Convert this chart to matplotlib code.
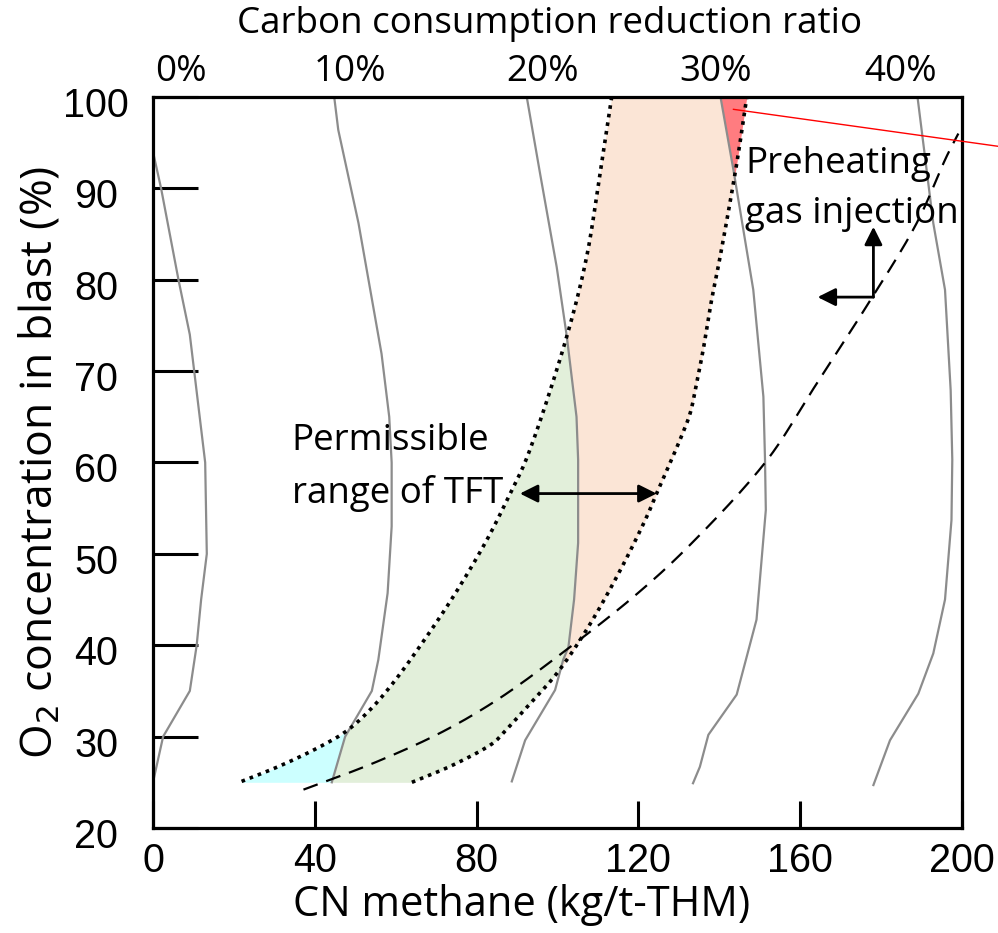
import numpy as np
import matplotlib
matplotlib.use("Agg")
import matplotlib.pyplot as plt
import matplotlib.transforms as mtransforms

# ---------------- data ----------------
o2_ticks = [20, 30, 40, 50, 60, 70, 80, 90, 100]
cn_ticks = [0, 40, 80, 120, 160, 200]
pct_labels = ["0%", "10%", "20%", "30%", "40%"]
pct_label_pos = [6.9, 48.7, 96.4, 139.2, 184.7]

# iso-lines of carbon consumption reduction ratio (x = CN methane, y = O2 %)
line0_y = [25, 30, 35, 40, 45, 50, 60, 67, 74, 80, 90, 93.8]
line0_x = [0.0, 2.5, 9.1, 10.8, 11.9, 13.3, 12.9, 11.0, 9.1, 6.3, 2.0, 0.1]
line10_y = [25, 30, 35, 38.4, 45.7, 53, 60, 65, 71.9, 86.2, 96.4, 100]
line10_x = [44.2, 47.5, 54.1, 55.7, 58.0, 59.0, 59.0, 58.4, 56.5, 50.8, 45.8, 44.8]
line20_y = [25.1, 29.6, 35.1, 38.4, 39.8, 45, 51.2, 60.3, 65, 73.8, 81.4, 91.6, 100]
line20_x = [88.7, 92.0, 99.4, 101.4, 102.7, 104.1, 105.1, 105.1, 104.7, 102.3, 99.8, 95.7, 92.4]
line30_y = [24.9, 26.7, 30.2, 34.6, 42.8, 54.8, 60.3, 67.2, 78.9, 92.0, 100]
line30_x = [133.5, 135.2, 137.3, 144.3, 149.2, 151.5, 151.3, 150.9, 148.4, 143.5, 140.3]
line40_y = [24.7, 29.6, 34.7, 39.1, 45.0, 53.7, 60.3, 67.9, 78.9, 86.2, 100]
line40_x = [178.1, 182.2, 189.2, 192.9, 195.8, 197.4, 197.6, 197.2, 195.8, 192.9, 189.0]

# dashed boundary (preheating gas injection)
dash_y = [24.2, 27.1, 30.4, 34.0, 39.5, 45.3, 50.6, 60.2, 68.1, 77.1, 86.2, 93.5, 96.0]
dash_x = [37.2, 54.5, 71.0, 85.0, 102.2, 118.8, 131.9, 151.7, 163.3, 176.4, 188.8, 196.2, 199.1]

# dotted boundaries of permissible TFT range
tft_lo_y = [25.1, 26.8, 28.9, 30.6, 33.0, 35.9, 39.9, 45.3, 51.5, 56.6, 60.5, 73.8, 82.5, 91.6, 100]
tft_lo_x = [21.9, 31.4, 41.3, 47.8, 53.8, 59.4, 66.0, 74.2, 82.5, 88.3, 92.4, 102.3, 107.2, 110.5, 113.4]
tft_hi_y = [25.0, 26.9, 29.3, 30.4, 33.6, 36.9, 41.7, 48.2, 54.1, 56.6, 62.5, 65.4, 68.7, 72.3, 77.8, 82.5, 92.7, 100]
tft_hi_x = [64.0, 74.2, 84.1, 86.6, 93.2, 99.8, 107.2, 115.5, 122.1, 124.5, 130.3, 132.8, 134.4, 136.0, 138.1, 140.2, 144.3, 146.8]

# ---------------- styling ----------------
NUM_FONT = ["Liberation Sans", "DejaVu Sans"]
TXT_FONT = ["Open Sans", "DejaVu Sans"]
GRAY = "#8c8c8c"
C_CYAN = "#ccffff"
C_GREEN = "#e2efda"
C_PEACH = "#fbe5d6"
C_RED = "#ff7c80"

W, H = 998, 933
fig = plt.figure(figsize=(W / 100, H / 100), dpi=100)
ax = fig.add_axes([153 / W, 105 / H, 809 / W, 731 / H])
ax.set_xlim(0, 200)
ax.set_ylim(20, 100)
fig.canvas.draw()


def smooth_curve(xs, ys, n=25):
    """Centripetal Catmull-Rom rendering through the given points (display space)."""
    pts = ax.transData.transform(np.column_stack([xs, ys]))
    P = np.vstack([2 * pts[0] - pts[1], pts, 2 * pts[-1] - pts[-2]])
    out = []
    for i in range(1, len(P) - 2):
        p0, p1, p2, p3 = P[i - 1], P[i], P[i + 1], P[i + 2]
        t0 = 0.0
        t1 = t0 + np.linalg.norm(p1 - p0) ** 0.5
        t2 = t1 + np.linalg.norm(p2 - p1) ** 0.5
        t3 = t2 + np.linalg.norm(p3 - p2) ** 0.5
        t = np.linspace(t1, t2, n, endpoint=(i == len(P) - 3))[:, None]
        a1 = (t1 - t) / (t1 - t0) * p0 + (t - t0) / (t1 - t0) * p1
        a2 = (t2 - t) / (t2 - t1) * p1 + (t - t1) / (t2 - t1) * p2
        a3 = (t3 - t) / (t3 - t2) * p2 + (t - t2) / (t3 - t2) * p3
        b1 = (t2 - t) / (t2 - t0) * a1 + (t - t0) / (t2 - t0) * a2
        b2 = (t3 - t) / (t3 - t1) * a2 + (t - t1) / (t3 - t1) * a3
        c = (t2 - t) / (t2 - t1) * b1 + (t - t1) / (t2 - t1) * b2
        out.append(c)
    d = ax.transData.inverted().transform(np.vstack(out))
    return d[:, 0], d[:, 1]


lo_x, lo_y = smooth_curve(tft_lo_x, tft_lo_y)
hi_x, hi_y = smooth_curve(tft_hi_x, tft_hi_y)
da_x, da_y = smooth_curve(dash_x, dash_y)


def x_of_y(cx, cy, yq):
    order = np.argsort(cy)
    return np.interp(yq, np.asarray(cy)[order], np.asarray(cx)[order])


# ---------------- filled regions ----------------
yy = np.linspace(25.0, 100, 3000)
L10 = np.interp(yy, line10_y, line10_x)
L20 = np.interp(yy, line20_y, line20_x)
L30 = np.interp(yy, line30_y, line30_x)
LO = x_of_y(lo_x, lo_y, yy)
HI = x_of_y(hi_x, hi_y, yy)

left, right = LO, L10
ax.fill_betweenx(yy, left, right, where=left < right, color=C_CYAN, lw=0, interpolate=True)
left, right = np.maximum(LO, L10), np.minimum(L20, HI)
ax.fill_betweenx(yy, left, right, where=left < right, color=C_GREEN, lw=0, interpolate=True)
left, right = np.maximum(LO, L20), np.minimum(HI, L30)
ax.fill_betweenx(yy, left, right, where=left < right, color=C_PEACH, lw=0, interpolate=True)
left, right = L30, HI
ax.fill_betweenx(yy, left, right, where=left < right, color=C_RED, lw=0, interpolate=True)

# ---------------- lines ----------------
for xs, ys in [(line0_x, line0_y), (line10_x, line10_y), (line20_x, line20_y),
               (line30_x, line30_y), (line40_x, line40_y)]:
    ax.plot(xs, ys, color=GRAY, lw=1.6)

ax.plot(lo_x, lo_y, color="black", lw=2.6, linestyle=(0, (1, 1.4)), dash_capstyle="butt")
ax.plot(hi_x, hi_y, color="black", lw=2.6, linestyle=(0, (1, 1.4)), dash_capstyle="butt")
ax.plot(da_x, da_y, color="black", lw=1.6, linestyle=(0, (6.8, 4.1)))

# red leader line
ax.plot([143.5, 209.0], [98.65, 94.6], color="red", lw=1.0, clip_on=False, zorder=5)

# ---------------- arrows ----------------
ap = dict(color="black", lw=2.0, mutation_scale=27, shrinkA=0, shrinkB=0)
ax.annotate("", xy=(90.7, 56.6), xytext=(124.5, 56.6), arrowprops=dict(arrowstyle="<|-|>", **ap))
ax.annotate("", xy=(178.1, 85.8), xytext=(178.1, 78.1), arrowprops=dict(arrowstyle="-|>", **ap))
ax.annotate("", xy=(164.3, 78.1), xytext=(178.1, 78.1), arrowprops=dict(arrowstyle="-|>", **ap))

# ---------------- annotations ----------------
ax.text(34.3, 61.4, "Permissible", family=TXT_FONT, fontsize=26.5, va="baseline", ha="left")
ax.text(34.3, 55.6, "range of TFT", family=TXT_FONT, fontsize=26.5, va="baseline", ha="left")
ax.text(146.4, 91.65, "Preheating", family=TXT_FONT, fontsize=26.5, va="baseline", ha="left")
ax.text(146.4, 86.2, "gas injection", family=TXT_FONT, fontsize=26.5, va="baseline", ha="left")

# ---------------- axes styling ----------------
for s in ax.spines.values():
    s.set_linewidth(2.3)
    s.set_color("black")

ax.set_xticks(cn_ticks)
ax.set_yticks(o2_ticks)
ax.set_xticklabels([str(v) for v in cn_ticks], family=NUM_FONT, fontsize=28.5)
ax.set_yticklabels([str(v) for v in o2_ticks], family=NUM_FONT, fontsize=28.5, ha="center")
ax.tick_params(axis="x", direction="in", length=19.5, width=2.2, pad=10)
ax.tick_params(axis="y", direction="in", length=32.5, width=2.2, pad=41)
shift = mtransforms.ScaledTranslation(0, -5 / 100, fig.dpi_scale_trans)
for lab in ax.get_yticklabels():
    lab.set_transform(lab.get_transform() + shift)

# top percentage labels
ax2 = ax.twiny()
ax2.set_xlim(ax.get_xlim())
ax2.set_xticks(pct_label_pos)
ax2.set_xticklabels(pct_labels, family=TXT_FONT, fontsize=26.5)
ax2.tick_params(axis="x", length=0, pad=5)
for s in ax2.spines.values():
    s.set_visible(False)

fig.text(550 / W, 1 - 24 / H, "Carbon consumption reduction ratio", family=TXT_FONT,
         fontsize=26.5, ha="center", va="center")
fig.text(522 / W, 1 - 905 / H, "CN methane (kg/t-THM)", family=TXT_FONT,
         fontsize=30, ha="center", va="center")
fig.text(40 / W, 1 - 462 / H, "O$_2$ concentration in blast (%)", family=TXT_FONT,
         fontsize=32, ha="center", va="center", rotation=90)

fig.savefig("out.png", dpi=100)
